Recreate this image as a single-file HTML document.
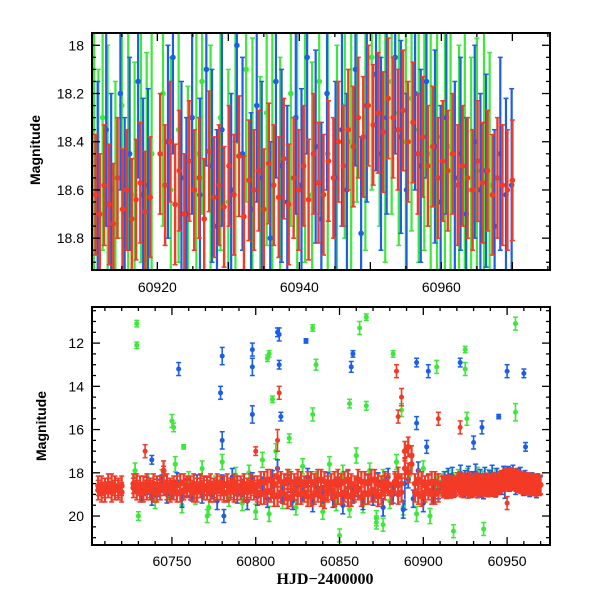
<!DOCTYPE html>
<html><head><meta charset="utf-8"><style>
body{margin:0;background:#fff;}
svg text{font-family:"Liberation Sans",sans-serif;}
</style></head><body>
<svg id="chart" width="600" height="600" xmlns="http://www.w3.org/2000/svg">
<defs>
<clipPath id="clipTop"><rect x="92" y="33" width="458" height="237"/></clipPath>
<clipPath id="clipBot"><rect x="92" y="307" width="458" height="238"/></clipPath>
</defs>
<rect width="600" height="600" fill="#fff"/>
<g id="topMarks" clip-path="url(#clipTop)"></g>
<g id="botMarks" clip-path="url(#clipBot)"></g>
<g id="axes"></g>
<text x="40" y="150" transform="rotate(-90 40 150)" text-anchor="middle" font-size="14" font-weight="bold">Magnitude</text>
<text x="46" y="426" transform="rotate(-90 46 426)" text-anchor="middle" font-size="14" font-weight="bold">Magnitude</text>
<text x="325" y="584" text-anchor="middle" font-size="16" font-weight="bold" style="font-family:'Liberation Serif',serif">HJD−2400000</text>
</svg>
<script>
// ---- top panel data ----
const topRedT=[60911.3,60911.9,60912.5,60913.2,60913.8,60914.4,60915.1,60915.7,60916.4,60917.0,60917.6,60918.3,60919.0,60920.4,60921.1,60921.8,60922.5,60923.1,60923.8,60924.5,60925.2,60925.9,60926.6,60927.3,60928.0,60928.7,60929.4,60930.1,60930.8,60931.5,60932.2,60932.9,60933.6,60934.3,60935.0,60935.7,60936.4,60937.1,60937.8,60938.5,60939.2,60939.9,60940.6,60941.3,60942.0,60942.7,60943.4,60944.1,60944.8,60945.5,60946.2,60946.9,60947.6,60948.3,60949.0,60949.7,60950.4,60951.1,60951.8,60952.5,60953.2,60953.9,60954.6,60955.3,60956.0,60956.7,60957.4,60958.1,60958.8,60959.5,60960.2,60960.9,60961.6,60962.3,60963.0,60963.7,60964.4,60965.1,60965.8,60966.5,60967.2,60967.9,60968.6,60969.3,60970.0];
const topRedM=[18.62,18.70,18.58,18.66,18.74,18.55,18.68,18.60,18.72,18.64,18.57,18.69,18.63,18.45,18.58,18.40,18.66,18.52,18.70,18.48,18.60,18.55,18.72,18.44,18.63,18.58,18.67,18.50,18.62,18.46,18.71,18.56,18.60,18.52,18.68,18.49,18.58,18.63,18.47,18.66,18.55,18.60,18.50,18.64,18.45,18.57,18.62,18.48,18.55,18.40,18.50,18.35,18.42,18.30,18.38,18.25,18.33,18.28,18.36,18.22,18.30,18.35,18.27,18.40,18.32,18.45,18.38,18.50,18.42,18.55,18.48,18.52,18.45,18.58,18.50,18.55,18.60,18.48,18.57,18.52,18.62,18.55,18.58,18.60,18.56];
const topBlueT=[60911.6,60912.8,60913.5,60914.8,60915.4,60916.1,60917.3,60918.0,60918.7,60921.5,60922.2,60923.4,60924.1,60924.9,60926.0,60926.9,60927.7,60928.4,60929.1,60930.4,60931.2,60932.0,60933.2,60934.0,60934.7,60935.9,60936.7,60937.5,60938.3,60939.5,60940.3,60941.1,60942.3,60943.1,60943.9,60945.1,60946.0,60946.7,60947.9,60948.7,60949.5,60950.8,60951.5,60952.3,60953.5,60954.3,60955.1,60956.3,60957.1,60957.9,60959.1,60959.9,60960.7,60961.9,60962.7,60963.5,60964.7,60965.5,60966.3,60967.5,60968.3,60969.1,60969.9];
const topBlueM=[18.55,18.35,18.60,18.20,18.70,18.45,18.15,18.62,18.58,18.40,18.05,18.55,18.70,18.30,18.62,18.10,18.50,18.75,18.35,18.60,18.00,18.45,18.68,18.25,18.55,18.80,18.15,18.50,18.65,18.30,18.58,18.05,18.42,18.72,18.20,18.55,18.35,18.60,18.10,18.78,18.25,18.12,18.45,18.30,18.05,18.38,18.60,18.20,18.50,18.15,18.42,18.65,18.30,18.55,18.45,18.70,18.40,18.60,18.52,18.75,18.45,18.62,18.58];
const topGreenT=[60911.1,60911.7,60912.3,60913.0,60914.1,60915.0,60915.9,60916.8,60917.7,60918.5,60919.2,60920.8,60921.9,60923.0,60924.3,60925.5,60926.3,60927.5,60928.9,60930.0,60931.0,60932.5,60933.4,60934.5,60935.4,60936.2,60937.3,60938.8,60939.7,60940.8,60941.8,60942.8,60944.0,60945.3,60946.4,60947.3,60948.1,60949.3,60950.2,60951.3,60952.1,60953.0,60954.0,60955.0,60955.8,60956.8,60957.6,60958.5,60959.4,60960.5,60961.3,60962.5,60963.3,60964.2,60965.0,60966.0,60966.8];
const topGreenM=[18.40,18.65,18.30,18.55,18.70,18.25,18.50,18.62,18.35,18.58,18.45,18.20,18.60,18.35,18.72,18.45,18.15,18.55,18.30,18.65,18.40,18.10,18.52,18.68,18.28,18.45,18.60,18.20,18.50,18.35,18.62,18.15,18.45,18.55,18.25,18.40,18.10,18.30,18.05,18.20,18.35,18.15,18.28,18.40,18.22,18.35,18.30,18.45,18.38,18.50,18.42,18.55,18.48,18.60,18.52,18.45,18.58];
const topErr={red:0.25,blue:0.4,green:0.55};

// ---- bottom panel extra data ----
const botRedT=[60706,60708,60710,60712,60714,60716,60718,60720,60727,60729,60731,60733,60735,60737,60739,60741,60743,60745,60747,60749,60751,60753,60755,60757,60759,60761,60763,60765,60767,60769,60771,60773,60775,60777,60779,60781,60783,60785,60787,60789,60791,60793,60795,60797,60799,60801,60803,60805,60807,60809,60811,60813,60815,60817,60819,60821,60823,60825,60827,60829,60831,60833,60835,60837,60839,60841,60843,60845,60847,60849,60851,60853,60855,60857,60859,60861,60863,60865,60867,60869,60871,60873,60875,60877,60879,60881,60883,60885,60887,60889,60891,60893,60895,60897,60899,60901,60903,60905,60907,60909];
const botRedM=[18.8,18.6,18.9,18.7,18.5,18.8,18.7,18.9,18.7,18.5,18.9,18.6,18.8,18.7,18.5,18.9,18.6,17.9,18.8,18.7,18.6,18.9,18.5,18.8,18.7,18.6,18.9,18.7,18.5,18.8,18.6,18.9,18.7,18.5,18.8,18.6,18.9,18.7,18.5,18.8,18.6,18.9,18.7,18.5,18.8,18.6,19.0,18.4,18.9,18.3,19.1,18.2,18.9,18.5,19.2,18.4,18.8,18.3,19.0,18.6,18.4,19.1,18.5,18.9,18.3,19.2,18.6,18.8,18.4,19.0,18.5,18.9,18.3,19.1,18.6,18.8,18.4,19.0,18.5,18.9,18.3,19.1,18.6,18.8,18.5,18.9,18.4,18.2,18.9,17.8,16.8,17.2,18.9,18.3,19.1,18.6,18.8,18.4,19.0,18.5];
const botRedM2=[18.6,18.9,18.7,18.5,18.9,18.6,18.8,18.6,18.5,18.8,18.6,18.9,18.5,18.8,18.9,18.6,18.8,18.6,18.5,18.9,18.8,18.6,18.9,18.5,18.6,18.8,18.5,18.9,18.7,18.6,18.8,18.5,18.9,18.8,18.6,18.9,18.5,18.8,18.9,18.6,18.8,18.5,18.9,18.8,18.6,18.9,18.4,19.0,18.3,18.9,18.5,19.1,18.4,19.0,18.3,19.1,18.5,19.0,18.4,18.9,19.1,18.4,19.0,18.3,19.1,18.4,18.9,18.5,19.1,18.3,19.0,18.4,19.1,18.5,18.9,18.3,19.1,18.4,19.0,18.3,18.9,18.5,19.0,18.4,18.6,19.0,18.5,19.0,18.5,17.0,18.0,17.6,18.5,19.0,18.4,18.9,18.5,19.0,18.4,18.9];
const botBlueT=[60732,60735,60738,60741,60744,60747,60750,60753,60756,60759,60762,60765,60768,60771,60774,60777,60780,60783,60786,60789,60792,60795,60798,60801,60804,60807,60810,60813,60816,60819,60822,60825,60828,60831,60834,60837,60840,60843,60846,60849,60852,60855,60858,60861,60864,60867,60870,60873,60876,60879,60882,60885,60888,60891,60894,60897,60900,60903,60906,60909];
const botBlueM=[18.9,18.6,19.1,18.7,18.5,19.0,18.8,18.4,19.2,18.7,18.9,18.5,19.0,18.6,18.8,19.3,18.5,18.9,18.2,19.0,18.7,19.3,18.4,19.1,18.6,19.2,18.3,17.8,19.0,18.5,19.3,18.6,18.9,18.2,19.4,18.7,19.0,18.4,19.2,18.6,19.5,18.3,19.0,18.7,19.3,18.5,19.1,18.4,19.6,18.2,19.0,18.6,19.7,18.3,19.2,17.9,19.4,18.5,19.0,18.8];
const botGreenT=[60728,60732,60736,60740,60744,60748,60752,60756,60760,60764,60768,60772,60776,60780,60784,60788,60792,60796,60800,60804,60808,60812,60816,60820,60824,60828,60832,60836,60840,60844,60848,60852,60856,60860,60864,60868,60872,60876,60880,60884,60888,60892,60896,60900,60904,60908];
const botGreenM=[17.9,19.0,18.4,19.3,18.2,18.9,17.6,19.5,18.3,19.1,17.8,19.6,18.5,17.5,19.2,18.1,19.4,18.0,19.8,17.4,19.9,17.0,19.3,18.2,19.6,17.7,19.1,18.3,19.8,17.6,19.4,18.0,19.7,17.2,19.5,17.9,20.1,18.2,19.3,17.5,19.6,18.1,19.9,17.8,20.0,18.4];
const botErr={red:0.45,blue:0.4,green:0.35};

// ---- outliers (time, mag, error) ----
const outGreenT=[60729,60729,60750,60751,60757,60807,60808,60810,60834,60836,60834,60856,60862,60866,60866,60882,60887,60908,60925,60925,60926,60955,60955,60730,60850,60918,60936,60771,60820,60872,60876];
const outGreenM=[11.1,12.1,15.6,15.9,16.8,12.7,12.5,14.6,11.3,13.0,15.3,14.8,11.3,10.8,14.9,12.5,15.1,13.1,12.3,13.2,15.5,11.1,15.2,20.0,20.9,20.7,20.6,20.0,16.4,20.3,20.4];
const outGreenE=[0.15,0.15,0.3,0.2,0.1,0.15,0.15,0.15,0.15,0.25,0.3,0.2,0.3,0.15,0.2,0.15,0.3,0.3,0.15,0.3,0.3,0.3,0.4,0.2,0.3,0.3,0.3,0.3,0.2,0.3,0.3];
const outBlueT=[60754,60738,60780,60779,60780,60798,60798,60798,60813,60814,60814,60815,60830,60858,60857,60896,60896,60903,60922,60935,60945,60950,60960,60961,60781,60889,60902,60930];
const outBlueM=[13.2,17.4,12.6,14.3,16.5,12.3,13.1,15.3,11.5,11.6,13.0,15.4,11.9,12.5,13.1,12.9,15.7,13.3,12.9,15.9,15.4,13.3,13.4,16.8,20.0,18.5,16.8,16.6];
const outBlueE=[0.3,0.2,0.4,0.3,0.4,0.3,0.4,0.4,0.2,0.3,0.2,0.2,0.1,0.15,0.25,0.2,0.3,0.3,0.2,0.3,0.1,0.3,0.2,0.2,0.3,1.2,0.3,0.3];
const outRedT=[60734,60814,60813,60800,60884,60887,60885,60909,60922,60745,60950];
const outRedM=[17.0,14.3,16.5,17.0,13.3,14.5,15.4,15.5,15.9,17.9,19.4];
const outRedE=[0.3,0.3,0.5,0.2,0.3,0.4,0.3,0.3,0.3,0.2,0.3];

const COL={red:"#f23a26",blue:"#1c5ee8",green:"#3de83a"};
const NS="http://www.w3.org/2000/svg";
// axis functions
const topX=t=>92+(t-60910.8)*(458/(60975.3-60910.8));
const topY=m=>33+(m-17.949)*(237/(18.932-17.949));
const botX=t=>92+(t-60702.3)*(458/(60975.6-60702.3));
const botY=m=>307+(m-10.33)*(238/(21.34-10.33));

function mk(tag,attrs,parent){const e=document.createElementNS(NS,tag);for(const k in attrs)e.setAttribute(k,attrs[k]);parent.appendChild(e);return e;}

function drawPoint(g,xf,yf,t,m,e,color,r,sw,name){
  const x=xf(t),y1=yf(m-e),y2=yf(m+e),y=yf(m);
  const grp=mk('g',{},g);
  
  
  mk('line',{x1:x,x2:x,y1:y1,y2:y2,stroke:color,'stroke-width':sw},grp);
  mk('line',{x1:x-2.5,x2:x+2.5,y1:y1,y2:y1,stroke:color,'stroke-width':1.5},grp);
  mk('line',{x1:x-2.5,x2:x+2.5,y1:y2,y2:y2,stroke:color,'stroke-width':1.5},grp);
  mk('circle',{cx:x,cy:y,r:r,fill:color},grp);
}
function series(g,xf,yf,T,M,E,color,r,sw,name){
  const n=Math.min(T.length,M.length);
  for(let i=0;i<n;i++){const e=Array.isArray(E)?E[i]:E;drawPoint(g,xf,yf,T[i],M[i],e,color,r,sw,name);}
}
const topG=document.getElementById('topMarks');
const botG=document.getElementById('botMarks');
// top panel
series(topG,topX,topY,topGreenT,topGreenM,topErr.green,COL.green,2.8,2.2,'top-green-point');
series(topG,topX,topY,topBlueT,topBlueM,topErr.blue,COL.blue,2.8,2.2,'top-blue-point');
series(topG,topX,topY,topRedT,topRedM,topErr.red,COL.red,2.8,2.4,'top-red-point');
// bottom panel
series(botG,botX,botY,outGreenT,outGreenM,outGreenE,COL.green,2.5,1.6,'outlier-green-point');
series(botG,botX,botY,outBlueT,outBlueM,outBlueE,COL.blue,2.5,1.6,'outlier-blue-point');
series(botG,botX,botY,botGreenT,botGreenM,botErr.green,COL.green,2.6,1.8,'band-green-point');
series(botG,botX,botY,topGreenT,topGreenM,botErr.green,COL.green,2.6,1.8,'band-green-point');
series(botG,botX,botY,botBlueT,botBlueM,botErr.blue,COL.blue,2.6,1.8,'band-blue-point');
series(botG,botX,botY,topBlueT,topBlueM,botErr.blue,COL.blue,2.6,1.8,'band-blue-point');
series(botG,botX,botY,botRedT,botRedM,botErr.red,COL.red,3,2.2,'band-red-point');
series(botG,botX,botY,botRedT,botRedM2,botErr.red,COL.red,3,2.2,'band-red-point');
series(botG,botX,botY,topRedT,topRedM,botErr.red,COL.red,3,2.2,'band-red-point');
series(botG,botX,botY,outRedT,outRedM,outRedE,COL.red,2.5,1.6,'outlier-red-point');

// axes
const ax=document.getElementById('axes');
function frame(y0,y1,name){
  const r=mk('rect',{x:92,y:y0,width:458,height:y1-y0,fill:'none',stroke:'#000','stroke-width':2},ax);
  
  
}
frame(33,270,'top-plot-frame');
frame(307,545,'bottom-plot-frame');
function xTicks(xf,y0,y1,from,to,minor,major,labStep,labY,name){
  for(let v=from;v<=to+1e-6;v+=minor){
    const x=xf(v);if(x<92||x>550)continue;
    const isMaj=Math.abs(v/major-Math.round(v/major))<1e-6;
    const L=isMaj?8:4;
    mk('line',{x1:x,x2:x,y1:y1,y2:y1-L,stroke:'#000','stroke-width':1.3},ax);
    mk('line',{x1:x,x2:x,y1:y0,y2:y0+L,stroke:'#000','stroke-width':1.3},ax);
    if(Math.abs(v/labStep-Math.round(v/labStep))<1e-6){
      const t=mk('text',{x:x,y:labY,'text-anchor':'middle','font-size':14},ax);t.textContent=v;
      
      
    }
  }
}
function yTicks(yf,y0,y1,from,to,minor,major,labs,name){
  const n=Math.round((to-from)/minor);
  for(let i=0;i<=n;i++){
    const v=from+i*minor;const y=yf(v);if(y<y0||y>y1)continue;
    const isMaj=Math.abs(v/major-Math.round(v/major))<1e-6;
    const L=isMaj?8:4;
    mk('line',{x1:92,x2:92+L,y1:y,y2:y,stroke:'#000','stroke-width':1.3},ax);
    mk('line',{x1:550,x2:550-L,y1:y,y2:y,stroke:'#000','stroke-width':1.3},ax);
  }
  labs.forEach(v=>{const t=mk('text',{x:84,y:yf(v)+5,'text-anchor':'end','font-size':14},ax);t.textContent=v;
    
    });
}
const topYLabels=[18,18.2,18.4,18.6,18.8];
const botYLabels=[12,14,16,18,20];
xTicks(topX,33,270,60910,60975,5,10,20,292,'top-x-tick-label');
yTicks(topY,33,270,17.9,19.0,0.05,0.2,topYLabels,'top-y-tick-label');
xTicks(botX,307,545,60700,60970,10,50,50,566,'bottom-x-tick-label');
yTicks(botY,307,545,10,22,0.5,2,botYLabels,'bottom-y-tick-label');
</script>
</body></html>
